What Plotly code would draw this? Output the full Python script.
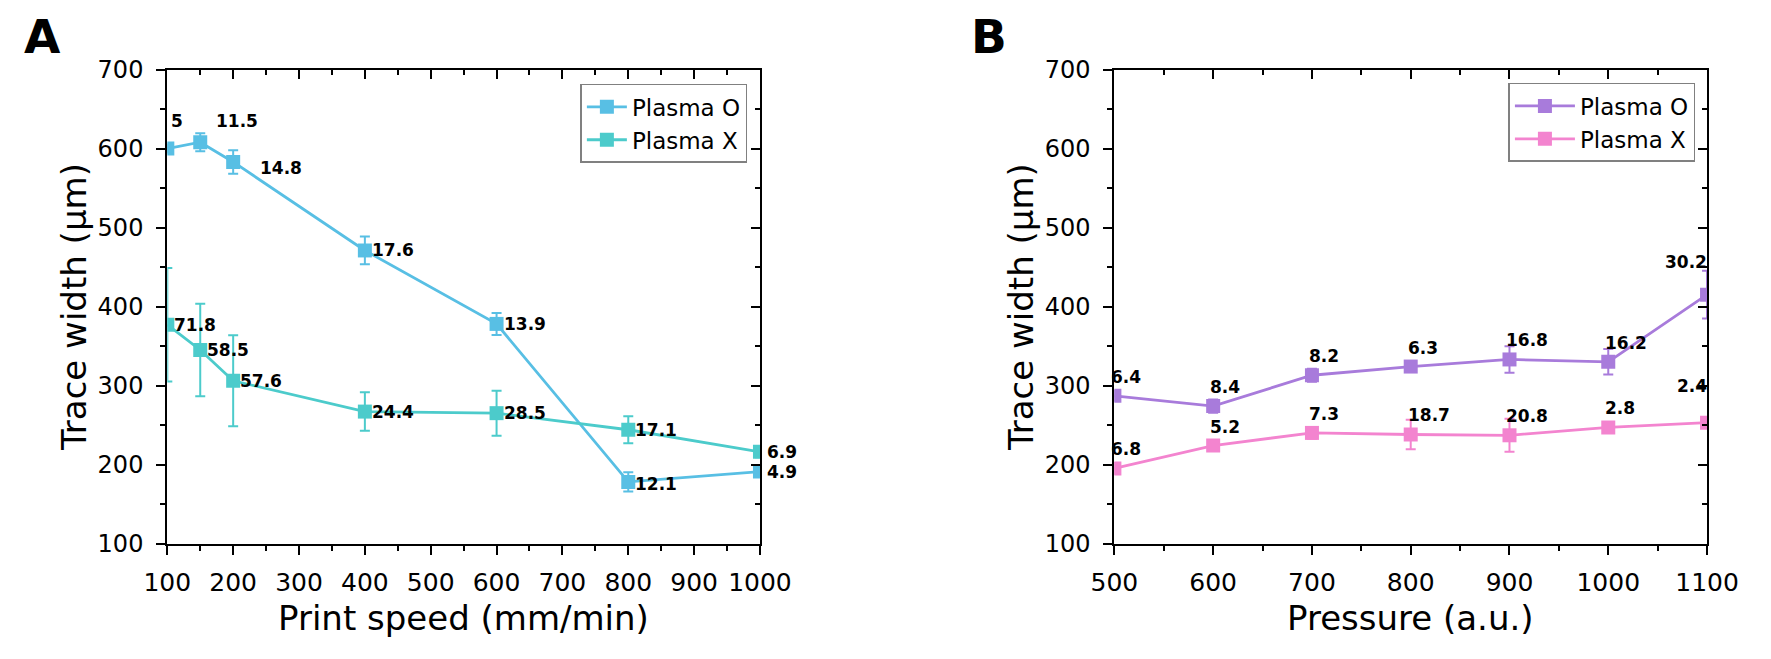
import plotly.graph_objects as go

# ---------------- data ----------------
speed = [100, 150, 200, 400, 600, 800, 1000]
speed_o_width = [600, 608, 583, 471, 378, 178, 191]
speed_o_err = [5, 11.5, 14.8, 17.6, 13.9, 12.1, 4.9]
speed_x_width = [377, 345, 306, 267, 265, 244, 216]
speed_x_err = [71.8, 58.5, 57.6, 24.4, 28.5, 17.1, 6.9]

pressure = [500, 600, 700, 800, 900, 1000, 1100]
press_o_width = [287, 274, 313, 324, 333, 330, 415]
press_o_err = [6.4, 8.4, 8.2, 6.3, 16.8, 16.2, 30.2]
press_x_width = [195, 224, 240, 238, 237, 247, 253]
press_x_err = [6.8, 5.2, 7.3, 18.7, 20.8, 2.8, 2.4]

series_names = ["Plasma O", "Plasma X"]
y_title = "Trace width (µm)"
x_title_a = "Print speed (mm/min)"
x_title_b = "Pressure (a.u.)"
panel_letters = ["A", "B"]

# ---------------- styles ----------------
W, H = 1771, 659
FONT = "DejaVu Sans"
COL_A_O = "#58BFE4"
COL_A_X = "#4CCBCB"
COL_B_O = "#A87BDB"
COL_B_X = "#F384CF"

# plot-area pixel geometry
A_X0, A_X1 = 148, 760
B_X0, B_X1 = 1126, 1738
Y_TOP, Y_BOT = 58, 553
PANEL_SHIFT = B_X0 - A_X0

# label placement (xanchor, yanchor, xshift, yshift) per point
lab_a_o = [("center", "middle", 10, 28), ("center", "middle", 37, 21), ("center", "middle", 48, -6),
           ("left", "middle", 5, 0), ("left", "middle", 5, 0), ("left", "middle", 5, -2), ("left", "middle", 5, 0)]
lab_a_x = [("left", "middle", 5, 0)] * 7
lab_b_o = [("left", "bottom", -5, 7)] * 6 + [("right", "middle", 2, 33)]
lab_b_x = [("left", "bottom", -5, 7)] * 6 + [("right", "middle", 2, 37)]


def fmt(v):
    return ("%g" % v)


fig = go.Figure()


def add_series(x, y, err, name, color, xa, ya, legend):
    fig.add_trace(go.Scatter(
        x=x, y=y, name=name, mode="lines+markers",
        line=dict(color=color, width=2.8),
        marker=dict(symbol="square", size=14, color=color),
        error_y=dict(type="data", array=err, visible=True, color=color, thickness=2, width=5),
        xaxis=xa, yaxis=ya, legend=legend,
    ))


add_series(speed, speed_o_width, speed_o_err, series_names[0], COL_A_O, "x", "y", "legend")
add_series(speed, speed_x_width, speed_x_err, series_names[1], COL_A_X, "x", "y", "legend")
add_series(pressure, press_o_width, press_o_err, series_names[0], COL_B_O, "x2", "y2", "legend2")
add_series(pressure, press_x_width, press_x_err, series_names[1], COL_B_X, "x2", "y2", "legend2")

# invisible helpers so the mirrored (top/right) axes get drawn
for xs, ys, xa, ya in [(speed, speed_o_width, "x3", "y3"), (pressure, press_o_width, "x4", "y4")]:
    fig.add_trace(go.Scatter(x=xs, y=ys, xaxis=xa, yaxis=ya, mode="markers",
                             marker=dict(opacity=0), showlegend=False, hoverinfo="skip"))

annotations = []


def add_labels(x, y, err, spec, xref, yref):
    for xi, yi, ei, (xa, ya, dx, dy) in zip(x, y, err, spec):
        annotations.append(dict(
            x=xi, y=yi, xref=xref, yref=yref, text=fmt(ei), showarrow=False,
            xanchor=xa, yanchor=ya, xshift=dx, yshift=dy,
            font=dict(family=FONT, size=17, color="black", weight="bold"),
        ))


add_labels(speed, speed_o_width, speed_o_err, lab_a_o, "x", "y")
add_labels(speed, speed_x_width, speed_x_err, lab_a_x, "x", "y")
add_labels(pressure, press_o_width, press_o_err, lab_b_o, "x2", "y2")
add_labels(pressure, press_x_width, press_x_err, lab_b_x, "x2", "y2")

title_font = dict(family=FONT, size=34, color="black")
y_mid = 1 - (Y_TOP + Y_BOT) / 2 / H
for i, (x0, x1, xt) in enumerate([(A_X0, A_X1, x_title_a), (B_X0, B_X1, x_title_b)]):
    # panel letter
    annotations.append(dict(
        x=(19 + i * PANEL_SHIFT) / W, y=1 - 23 / H, xref="paper", yref="paper",
        text=panel_letters[i], showarrow=False, xanchor="center", yanchor="middle",
        font=dict(family=FONT, size=47, color="black", weight="bold"),
    ))
    # x-axis title
    annotations.append(dict(
        x=(x0 + x1) / 2 / W, y=1 - 631 / H, xref="paper", yref="paper", text=xt,
        showarrow=False, xanchor="center", yanchor="middle", font=title_font,
    ))
    # y-axis title
    annotations.append(dict(
        x=(x0 - 97) / W, y=y_mid, xref="paper", yref="paper", text=y_title, textangle=-90,
        showarrow=False, xanchor="center", yanchor="middle", font=title_font,
    ))

ydom = [1 - Y_BOT / H, 1 - Y_TOP / H]
dom_a = [A_X0 / W, A_X1 / W]
dom_b = [B_X0 / W, B_X1 / W]

common = dict(showline=True, linecolor="black", linewidth=2.2, showgrid=False, zeroline=False,
              tickcolor="black", tickwidth=2, ticklen=9)
minor_out = dict(dtick=50, ticks="outside", ticklen=5, tickwidth=2, tickcolor="black")
minor_in = dict(dtick=50, ticks="inside", ticklen=5, tickwidth=2, tickcolor="black")


def xaxis(dom, rng, anchor):
    return dict(domain=dom, range=rng, tick0=rng[0], dtick=100, ticks="outside", minor=minor_out,
                tickfont=dict(family=FONT, size=25, color="black"), ticklabelstandoff=6,
                anchor=anchor, **common)


def yaxis(anchor):
    return dict(domain=ydom, range=[100, 700], tick0=100, dtick=100, ticks="outside", minor=minor_out,
                tickfont=dict(family=FONT, size=24, color="black"), ticklabelstandoff=8,
                anchor=anchor, **common)


def mirror_x(over, anchor, rng):
    return dict(overlaying=over, side="top", anchor=anchor, range=rng,
                tick0=rng[0], dtick=100, ticks="inside", showticklabels=False, minor=minor_in, **common)


def mirror_y(over, anchor):
    return dict(overlaying=over, side="right", anchor=anchor, range=[100, 700],
                tick0=100, dtick=100, ticks="inside", showticklabels=False, minor=minor_in, **common)


legend_common = dict(xanchor="right", yanchor="top", bgcolor="white", bordercolor="#808080",
                     borderwidth=1.5, font=dict(family=FONT, size=23, color="black"),
                     tracegroupgap=0)

fig.update_layout(
    width=W, height=H, margin=dict(l=0, r=0, t=0, b=0),
    paper_bgcolor="white", plot_bgcolor="white",
    xaxis=xaxis(dom_a, [100, 1000], "y"),
    yaxis=yaxis("x"),
    xaxis2=xaxis(dom_b, [500, 1100], "y2"),
    yaxis2=yaxis("x2"),
    xaxis3=mirror_x("x", "y", [100, 1000]),
    yaxis3=mirror_y("y", "x"),
    xaxis4=mirror_x("x2", "y2", [500, 1100]),
    yaxis4=mirror_y("y2", "x2"),
    legend=dict(x=747 / W, y=1 - 73 / H, itemwidth=40, **legend_common),
    legend2=dict(x=1726 / W, y=1 - 72 / H, itemwidth=60, **legend_common),
    annotations=annotations,
    showlegend=True,
)

fig.write_html("out.html")
